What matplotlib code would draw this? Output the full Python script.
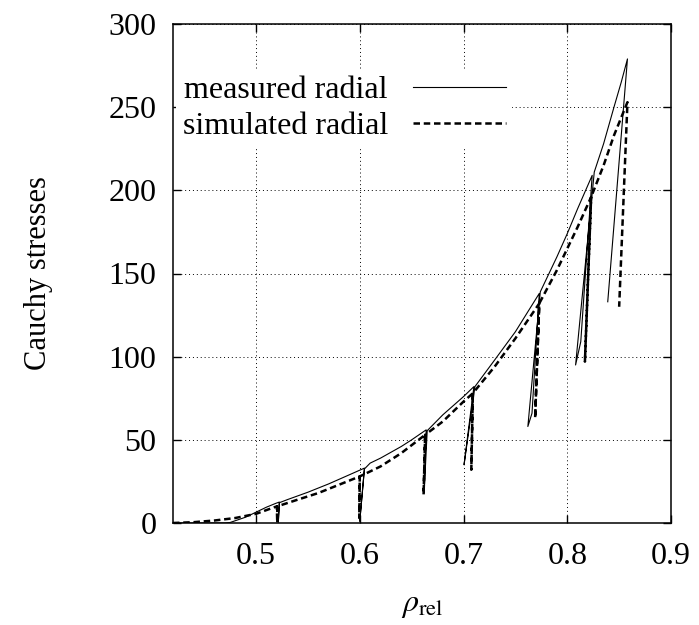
import matplotlib
matplotlib.use('Agg')
import matplotlib.pyplot as plt

plt.rcParams['font.family'] = ['Liberation Serif', 'DejaVu Serif']
plt.rcParams['mathtext.fontset'] = 'stix'

# measured radial: loading envelope with unload/reload loops
meas_x = [0.42, 0.47, 0.475, 0.49, 0.50, 0.51, 0.519, 0.5225, 0.5215, 0.5225,
          0.53, 0.55, 0.57, 0.59, 0.6045, 0.600, 0.6045,
          0.61, 0.62, 0.64, 0.65, 0.664, 0.662, 0.665,
          0.68, 0.70, 0.710, 0.7005, 0.711,
          0.73, 0.75, 0.76, 0.773, 0.766, 0.762, 0.774,
          0.79, 0.80, 0.81, 0.824, 0.813, 0.808, 0.826,
          0.835, 0.845, 0.852, 0.858, 0.839]
meas_y = [0.0, 0.0, 0.3, 3.5, 6.5, 9.5, 11.8, 12.6, 0.5, 12.2,
          14.0, 18.5, 23.5, 29.0, 33.0, 1.0, 32.5,
          36.0, 39.0, 46.0, 50.0, 56.0, 18.0, 55.5,
          65.0, 76.0, 82.0, 35.0, 82.0,
          98.0, 115.0, 125.0, 138.0, 66.0, 58.0, 139.0,
          160.0, 174.0, 189.0, 209.0, 109.0, 95.0, 211.0,
          228.0, 250.0, 265.0, 279.0, 133.0]

# simulated radial
sim_x = [0.42, 0.44, 0.46, 0.48, 0.50, 0.52, 0.5205, 0.5205,
         0.54, 0.56, 0.58, 0.60, 0.5995, 0.60,
         0.62, 0.64, 0.663, 0.6615, 0.663,
         0.68, 0.70, 0.709, 0.7075, 0.709,
         0.73, 0.75, 0.773, 0.769, 0.773,
         0.79, 0.80, 0.81, 0.823, 0.817, 0.823,
         0.835, 0.845, 0.858, 0.850]
sim_y = [0.0, 0.5, 1.5, 3.0, 5.5, 10.0, 0.0, 10.0,
         14.0, 18.0, 23.0, 28.0, 3.0, 28.0,
         34.0, 42.0, 53.0, 17.0, 53.0,
         61.0, 73.0, 78.0, 32.0, 78.0,
         94.0, 111.0, 132.0, 63.0, 132.0,
         152.0, 165.0, 178.0, 196.0, 97.0, 196.0,
         215.0, 233.0, 253.0, 130.0]

fig = plt.figure(figsize=(6.99, 6.25), dpi=100)
ax = fig.add_axes([0.2475, 0.1632, 0.7125, 0.7984])

ax.plot(meas_x, meas_y, color='black', lw=0.8, label='measured radial')
ax.plot(sim_x, sim_y, color='black', lw=1.8, ls=(0, (2.6, 1.5)), label='simulated radial')

ax.set_xlim(0.42, 0.9)
ax.set_ylim(0, 300)
ax.set_xticks([0.5, 0.6, 0.7, 0.8, 0.9])
ax.set_xticklabels(['0.5', '0.6', '0.7', '0.8', '0.9'])
ax.set_yticks(range(0, 301, 50))

ax.grid(True, color='black', lw=0.7, ls=(0, (1, 3)))
ax.tick_params(direction='in', length=6, width=1.0, top=True, right=True,
               labelsize=23, pad=12)
ax.tick_params(axis='x', pad=14)
for sp in ax.spines.values():
    sp.set_linewidth(1.1)

ax.set_xlabel(r'$\rho_{\mathrm{rel}}$', fontsize=23, labelpad=14)
ax.set_ylabel('Cauchy stresses', fontsize=22, labelpad=40)

leg = ax.legend(loc='upper left', bbox_to_anchor=(0.0, 0.915), markerfirst=False,
                fontsize=23, handlelength=2.9, handletextpad=0.8,
                labelspacing=0.2, borderpad=0.2, borderaxespad=0.1,
                frameon=True, fancybox=False, framealpha=1.0)
leg.get_frame().set_edgecolor('none')
leg.get_frame().set_facecolor('white')

fig.savefig('out.png', dpi=100)
